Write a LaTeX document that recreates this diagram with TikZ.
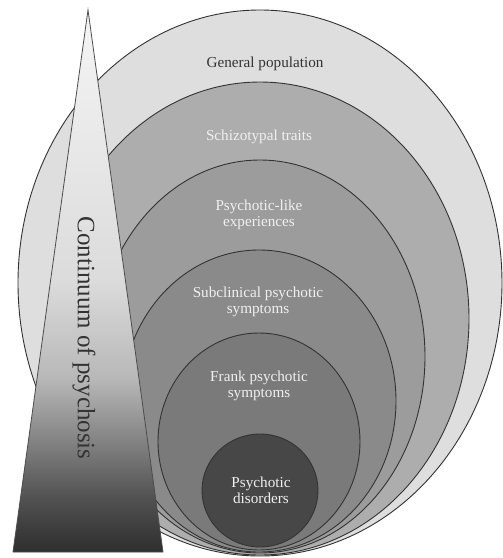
\documentclass[tikz,border=0pt]{standalone}
\usepackage{fontspec}
\setmainfont{Liberation Serif}
\usetikzlibrary{shapes.geometric,positioning}

\pgfdeclareverticalshading{continuum}{100bp}{color(0bp)=(black!82); color(25bp)=(black!82);
  color(30bp)=(black!68); color(36bp)=(black!46); color(41bp)=(black!28);
  color(50bp)=(black!14); color(75bp)=(black!4); color(100bp)=(black!4)}

\begin{document}
\begin{tikzpicture}[x=1pt,y=-1pt,
                    layer/.style={ellipse, draw=black!80, line width=0.9pt, inner sep=0pt, outer sep=0pt},
                    lbl/.style={align=center, font=\fontsize{15.2}{16}\selectfont, text=white!94!black}]
  \useasboundingbox (0,0) rectangle (503,558);

  % Layers
  \node[layer, fill=black!13, minimum width=484pt, minimum height=546pt] (general) at (260,283) {};
  \node[layer, fill=black!32, minimum width=418pt, minimum height=473pt] (schizo) at (260,318.5) {};
  \node[layer, fill=black!39, minimum width=330pt, minimum height=393pt] (like) at (260,356.5) {};
  \node[layer, fill=black!46, minimum width=274pt, minimum height=302pt] (subclin) at (259,401) {};
  \node[layer, fill=black!52, minimum width=202pt, minimum height=217pt] (frank) at (259,441.5) {};
  \node[layer, fill=black!72, minimum width=116pt, minimum height=113pt] (disorder) at (260,490.5) {};

  % Triangle
  \coordinate (apex) at (88,10);
  \coordinate (bl) at (13,552);
  \coordinate (br) at (163,552);
  \shadedraw[shading=continuum, draw=black!70, line width=0.8pt] (apex) -- (br) -- (bl) -- cycle;
  \node[rotate=-90, font=\fontsize{25}{25}\selectfont, text=black!80] (cont) at (84,338) {Continuum of psychosis};

  % Labels
  \node[lbl, text=black!80] (l1) at (265,64) {General population};
  \node[lbl] (l2) at (259,137) {Schizotypal traits};
  \node[lbl] (l3) at (259,215) {Psychotic-like\\experiences};
  \node[lbl] (l4) at (258,302) {Subclinical psychotic\\symptoms};
  \node[lbl] (l5) at (259,386) {Frank psychotic\\symptoms};
  \node[lbl] (l6) at (261,490) {Psychotic\\disorders};
\end{tikzpicture}
\end{document}
